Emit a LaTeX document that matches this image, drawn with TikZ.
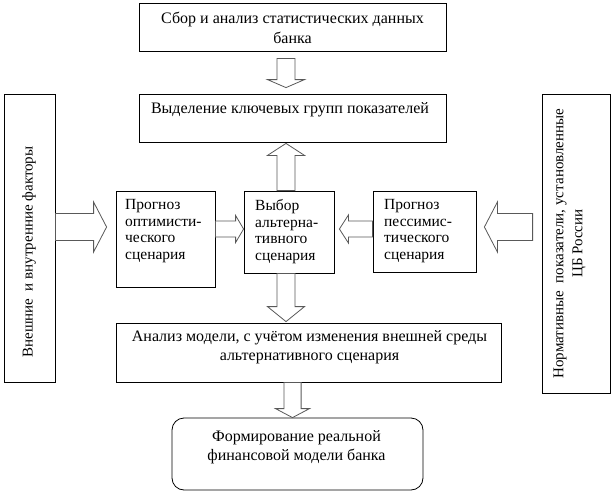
\documentclass[tikz,border=0pt]{standalone}
\usepackage{fontspec}
\setmainfont{Liberation Serif}
\usetikzlibrary{calc}
% block arrows: #1 start, #2 end (tip), #3 shaft half width, #4 head half width, #5 head length
\newcommand{\barrD}[5]{\draw[blk] let \p1=#1, \p2=#2 in (\x1-#3,\y1) -- (\x1-#3,\y2+#5) -- (\x1-#4,\y2+#5) -- (\x1,\y2) -- (\x1+#4,\y2+#5) -- (\x1+#3,\y2+#5) -- (\x1+#3,\y1) -- cycle;}
\newcommand{\barrU}[5]{\draw[blk] let \p1=#1, \p2=#2 in (\x1-#3,\y1) -- (\x1-#3,\y2-#5) -- (\x1-#4,\y2-#5) -- (\x1,\y2) -- (\x1+#4,\y2-#5) -- (\x1+#3,\y2-#5) -- (\x1+#3,\y1) -- cycle;}
\newcommand{\barrR}[5]{\draw[blk] let \p1=#1, \p2=#2 in (\x1,\y1+#3) -- (\x2-#5,\y1+#3) -- (\x2-#5,\y1+#4) -- (\x2,\y1) -- (\x2-#5,\y1-#4) -- (\x2-#5,\y1-#3) -- (\x1,\y1-#3) -- cycle;}
\newcommand{\barrL}[5]{\draw[blk] let \p1=#1, \p2=#2 in (\x1,\y1+#3) -- (\x2+#5,\y1+#3) -- (\x2+#5,\y1+#4) -- (\x2,\y1) -- (\x2+#5,\y1-#4) -- (\x2+#5,\y1-#3) -- (\x1,\y1-#3) -- cycle;}
\begin{document}
\begin{tikzpicture}[x=1pt,y=-1pt,
  box/.style={draw, line width=0.8pt, inner sep=0},
  txt/.style={font=\fontsize{16}{19.5}\selectfont, align=center, inner sep=0},
  rtxt/.style={font=\fontsize{15}{19}\selectfont, align=center, inner sep=0, rotate=90},
  stxt/.style={font=\fontsize{15.5}{16.7}\selectfont, align=left, inner sep=0, anchor=north west},
  blk/.style={draw=black!65, line width=0.8pt, fill=white, line join=miter}]
\useasboundingbox (0,0) rectangle (611,493);
% boxes
\node[box, minimum width=307pt, minimum height=48pt] (top) at (292.5,27) {};
\node[box, minimum width=307pt, minimum height=48pt] (sel) at (292.5,118) {};
\node[box, minimum width=51pt, minimum height=288pt] (left) at (29.5,238) {};
\node[box, minimum width=68pt, minimum height=299pt] (right) at (576,243.5) {};
\node[box, minimum width=99pt, minimum height=96pt] (opt) at (165.5,239) {};
\node[box, minimum width=90pt, minimum height=82pt] (vyb) at (289,232) {};
\node[box, minimum width=103pt, minimum height=81pt] (pess) at (424.5,231.5) {};
\node[box, minimum width=385pt, minimum height=59pt] (anal) at (308.5,352.5) {};
\node[box, rounded corners=12pt, minimum width=251pt, minimum height=72pt] (form) at (297.5,454) {};
% texts
\node[txt] (toptxt) at (292.5,28) {Сбор и анализ статистических данных\\банка};
\node[txt] (seltxt) at (290,110) {Выделение ключевых групп показателей};
\node[stxt] (opttxt) at (125,199) {Прогноз\\оптимисти-\\ческого\\сценария};
\node[stxt] (vybtxt) at (255,199) {Выбор\\альтерна-\\тивного\\сценария};
\node[stxt] (pesstxt) at (384,199) {Прогноз\\пессимис-\\тического\\сценария};
\node[txt] (analtxt) at (309.5,347) {Анализ модели, с учётом изменения внешней среды\\альтернативного сценария};
\node[txt] (formtxt) at (296.5,447) {Формирование реальной\\финансовой модели банка};
\node[rtxt] (lefttxt) at (29,252) {Внешние\ \ и внутренние факторы};
\node[rtxt] (righttxt) at (569.5,243.5) {Нормативные\ \ показатели, установленные\\ЦБ России};
% block arrows
\barrD{($(top.south)+(-6.5,7)$)}{($(sel.north)+(-6.5,-6)$)}{9pt}{18.5pt}{8pt}
\barrU{($(vyb.north)+(-3,0)$)}{($(sel.south)+(-6.5,1)$)}{9pt}{18.5pt}{12pt}
\barrR{($(left.east)+(0,-11)$)}{($(opt.west)+(-9,0)$)}{13.5pt}{25pt}{13pt}
\barrR{($(opt.east)+(0,-10)$)}{(vyb.west)}{8pt}{13.5pt}{8pt}
\barrL{($(pess.west)+(0,-2.5)$)}{($(vyb.east)+(5,0)$)}{8pt}{14pt}{9pt}
\barrL{($(right.west)+(-9,-16.5)$)}{($(pess.east)+(8,0)$)}{13.5pt}{25pt}{13pt}
\barrD{($(vyb.south)+(-3,0)$)}{($(anal.north)+(-22.5,-1)$)}{9pt}{18.5pt}{15pt}
\barrD{($(anal.south)+(-16,0)$)}{(form.north)}{8.6pt}{17pt}{9pt}
\end{tikzpicture}
\end{document}
